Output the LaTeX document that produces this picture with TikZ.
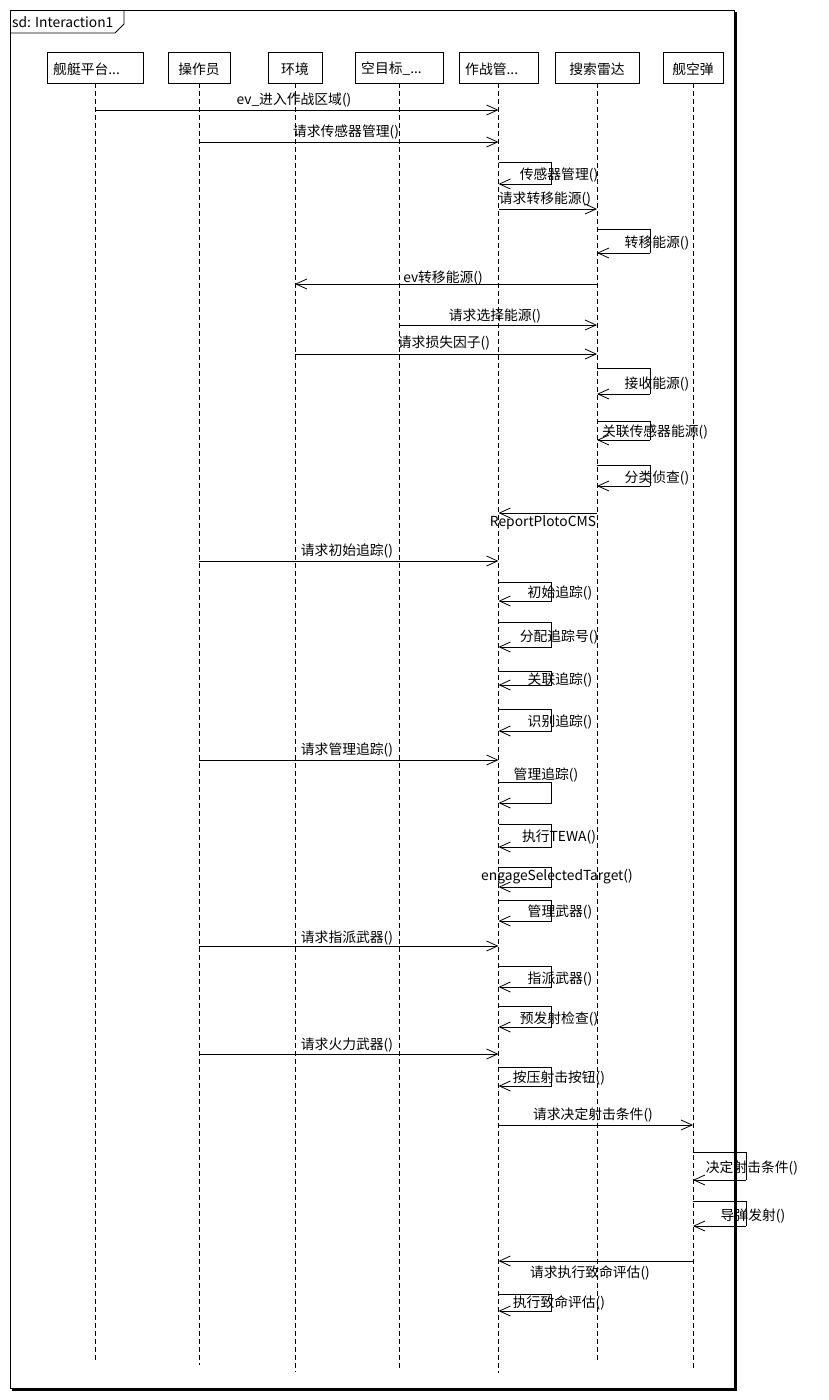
\documentclass[tikz,border=0pt]{standalone}
\usepackage{fontspec}
\setmainfont{Noto Sans CJK SC}
\usetikzlibrary{arrows.meta,calc}
\tikzset{
  x=1pt, y=-1pt,
  lbox/.style={draw, line width=0.8pt, minimum height=31pt, inner sep=0pt, fill=white},
  lline/.style={line width=0.8pt, dash pattern=on 5pt off 3pt},
  msg/.style={line width=0.8pt, -{Straight Barb[length=11pt, width=10pt, line width=0.8pt]}},
  loopl/.style={line width=0.8pt},
  lbl/.style={font=\fontsize{13.8}{16}\selectfont, inner sep=0pt},
  btxt/.style={font=\fontsize{13.8}{16}\selectfont, inner sep=0pt}
}
\newcommand\selfmsg[6]{%
  \draw[loopl] (#1 |- 0,#2) -- ++(53,0) -- ++(0,#3-#2);
  \draw[msg] ($(#1 |- 0,#3)+(53,0)$) -- (#1 |- 0,#3);
  \node[lbl] at (#4,#5) {#6};
}
\begin{document}
\begin{tikzpicture}
\useasboundingbox (0,0) rectangle (828,1400);
% frame
\draw[line width=3pt] (735.5,12) -- (735.5,1389.5) -- (12,1389.5);
\draw[line width=0.8pt] (10,10) rectangle (734,1388);
\draw[line width=0.8pt] (10,33) -- (115,33) -- (124,24) -- (124,10);
\node[btxt, anchor=west] (title) at (12,22) {sd: Interaction1};
% lifeline boxes
\node[lbox, minimum width=96pt] (l1) at (95,67.5) {};
\node[btxt, anchor=west] (t1) at (53,69) {舰艇平台...};
\node[lbox, minimum width=62pt] (l2) at (199,67.5) {};
\node[btxt] (t2) at (199,69) {操作员};
\node[lbox, minimum width=54pt] (l3) at (295,67.5) {};
\node[btxt] (t3) at (295,69) {环境};
\node[lbox, minimum width=88pt] (l4) at (399,67.5) {};
\node[btxt, anchor=west] (t4) at (361,69) {空目标\_...};
\node[lbox, minimum width=79pt] (l5) at (498.5,67.5) {};
\node[btxt, anchor=west] (t5) at (465,69) {作战管...};
\node[lbox, minimum width=84pt] (l6) at (597,67.5) {};
\node[btxt] (t6) at (597,69) {搜索雷达};
\node[lbox, minimum width=60pt] (l7) at (693,67.5) {};
\node[btxt] (t7) at (693,69) {舰空弹};
% lifelines
\draw[lline] (l1.south) -- (l1 |- 0,1361);
\draw[lline] (l2.south) -- (l2 |- 0,1365);
\draw[lline] (l3.south) -- (l3 |- 0,1372);
\draw[lline] (l4.south) -- (l4 |- 0,1370);
\draw[lline] (l5.south) -- (l5 |- 0,1373);
\draw[lline] (l6.south) -- (l6 |- 0,1362);
\draw[lline] (l7.south) -- (l7 |- 0,1370);
% messages
\draw[msg] (l1 |- 0,110) -- (l5 |- 0,110);
\node[lbl] at (294,100) {ev\_进入作战区域()};
\draw[msg] (l2 |- 0,142) -- (l5 |- 0,142);
\node[lbl] at (346,132) {请求传感器管理()};
\selfmsg{l5}{162}{184}{559}{175}{传感器管理()}
\draw[msg] (l5 |- 0,209) -- (l6 |- 0,209);
\node[lbl] at (545,199) {请求转移能源()};
\selfmsg{l6}{229}{253}{657}{243}{转移能源()}
\draw[msg] (l6 |- 0,284) -- (l3 |- 0,284);
\node[lbl] at (443,278) {ev转移能源()};
\draw[msg] (l4 |- 0,325) -- (l6 |- 0,325);
\node[lbl] at (495,316) {请求选择能源()};
\draw[msg] (l3 |- 0,354) -- (l6 |- 0,354);
\node[lbl] at (444,343) {请求损失因子()};
\selfmsg{l6}{368}{394}{657}{384}{接收能源()}
\selfmsg{l6}{421}{440}{655}{432}{关联传感器能源()}
\selfmsg{l6}{465}{486}{657}{478}{分类侦查()}
\draw[msg] (l6 |- 0,513) -- (l5 |- 0,513);
\node[lbl] at (543,523) {ReportPlotoCMS};
\draw[msg] (l2 |- 0,561) -- (l5 |- 0,561);
\node[lbl] at (347,551) {请求初始追踪()};
\selfmsg{l5}{582}{601}{560}{593}{初始追踪()}
\selfmsg{l5}{622}{647}{559}{637}{分配追踪号()}
\selfmsg{l5}{671}{685}{560}{680}{关联追踪()}
\selfmsg{l5}{709}{731}{560}{722}{识别追踪()}
\draw[msg] (l2 |- 0,760) -- (l5 |- 0,760);
\node[lbl] at (347,750) {请求管理追踪()};
\selfmsg{l5}{782}{803}{546}{775}{管理追踪()}
\selfmsg{l5}{824}{847}{559}{837}{执行TEWA()}
\selfmsg{l5}{867}{887}{557}{877}{engageSelectedTarget()}
\selfmsg{l5}{900}{921}{560}{912}{管理武器()}
\draw[msg] (l2 |- 0,946) -- (l5 |- 0,946);
\node[lbl] at (347,938) {请求指派武器()};
\selfmsg{l5}{966}{987}{560}{979}{指派武器()}
\selfmsg{l5}{1006}{1027}{559}{1019}{预发射检查()}
\draw[msg] (l2 |- 0,1054) -- (l5 |- 0,1054);
\node[lbl] at (347,1045) {请求火力武器()};
\selfmsg{l5}{1067}{1086}{559}{1078}{按压射击按钮()}
\draw[msg] (l5 |- 0,1125) -- (l7 |- 0,1125);
\node[lbl] at (593,1115) {请求决定射击条件()};
\selfmsg{l7}{1152}{1180}{752}{1168}{决定射击条件()}
\selfmsg{l7}{1201}{1226}{753}{1216}{导弹发射()}
\draw[msg] (l7 |- 0,1261) -- (l5 |- 0,1261);
\node[lbl] at (590,1273) {请求执行致命评估()};
\selfmsg{l5}{1294}{1311}{559}{1303}{执行致命评估()}
\end{tikzpicture}
\end{document}
